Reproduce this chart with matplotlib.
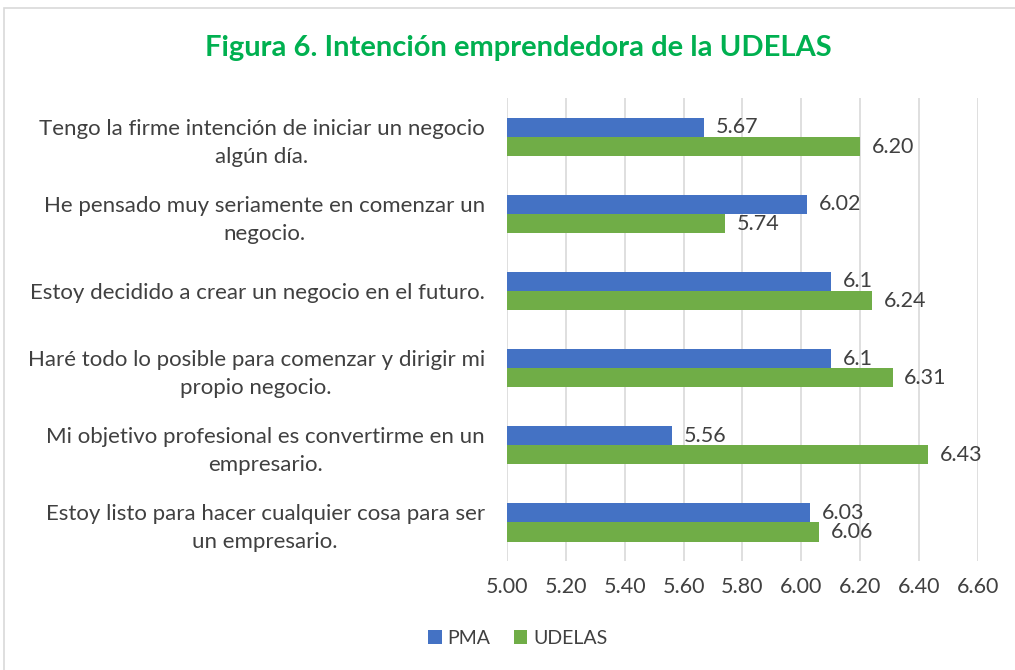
import matplotlib.pyplot as plt
import numpy as np
from matplotlib.patches import Rectangle

plt.rcParams['font.family'] = ['Lato', 'DejaVu Sans']

categorias = [
    "Tengo la firme intención de iniciar un negocio\nalgún día.",
    "He pensado muy seriamente en comenzar un\nnegocio.",
    "Estoy decidido a crear un negocio en el futuro.",
    "Haré todo lo posible para comenzar y dirigir mi\npropio negocio.",
    "Mi objetivo profesional es convertirme en un\nempresario.",
    "Estoy listo para hacer cualquier cosa para ser\nun empresario.",
]
pma = [5.67, 6.02, 6.1, 6.1, 5.56, 6.03]
udelas = [6.20, 5.74, 6.24, 6.31, 6.43, 6.06]
pma_etiquetas = ["5.67", "6.02", "6.1", "6.1", "5.56", "6.03"]
udelas_etiquetas = ["6.20", "5.74", "6.24", "6.31", "6.43", "6.06"]
ticks_x = [5.00, 5.20, 5.40, 5.60, 5.80, 6.00, 6.20, 6.40, 6.60]

azul = '#4472C4'
verde = '#70AD47'
gris_texto = '#404040'

fig = plt.figure(figsize=(10.15, 6.7), dpi=100)
ax = fig.add_axes([0.4995, 0.163, 0.464, 0.69])

y = np.arange(len(categorias))
alto = 0.25
base = 5.0

ax.barh(y - alto / 2, np.array(pma) - base, height=alto, left=base, color=azul, label='PMA')
ax.barh(y + alto / 2, np.array(udelas) - base, height=alto, left=base, color=verde, label='UDELAS')

for i in range(len(categorias)):
    ax.text(pma[i] + 0.04, y[i] - alto / 2, pma_etiquetas[i], va='center', ha='left',
            fontsize=15.5, color=gris_texto)
    ax.text(udelas[i] + 0.04, y[i] + alto / 2, udelas_etiquetas[i], va='center', ha='left',
            fontsize=15.5, color=gris_texto)

ax.set_xlim(5.0, 6.6)
ax.set_ylim(len(categorias) - 0.5, -0.5)
ax.set_xticks(ticks_x)
ax.set_xticklabels([f"{t:.2f}" for t in ticks_x])
ax.set_yticks(y)
ax.set_yticklabels(categorias)
for t in ax.get_yticklabels():
    t.set_multialignment('center')
    t.set_linespacing(1.5)

ax.tick_params(axis='x', length=0, labelsize=15.5, labelcolor=gris_texto, pad=12)
ax.tick_params(axis='y', length=0, labelsize=16, labelcolor=gris_texto, pad=16)
ax.grid(axis='x', color='#D9D9D9', linewidth=1.2)
ax.set_axisbelow(True)
for s in ax.spines.values():
    s.set_visible(False)

fig.text(0.511, 0.928, "Figura 6. Intención emprendedora de la UDELAS", ha='center', va='center',
         fontsize=21, fontweight='bold', color='#00B050')

fig.legend(loc='center', bbox_to_anchor=(0.51, 0.047), ncol=2, frameon=False, fontsize=14,
           handlelength=0.7, handleheight=0.7, handletextpad=0.3, columnspacing=1.2,
           labelcolor=gris_texto)

fig.patches.append(Rectangle((0.004, -0.01), 1.2, 0.998, transform=fig.transFigure,
                             fill=False, edgecolor='#D9D9D9', linewidth=1.2))

fig.savefig('out.png', dpi=100)
